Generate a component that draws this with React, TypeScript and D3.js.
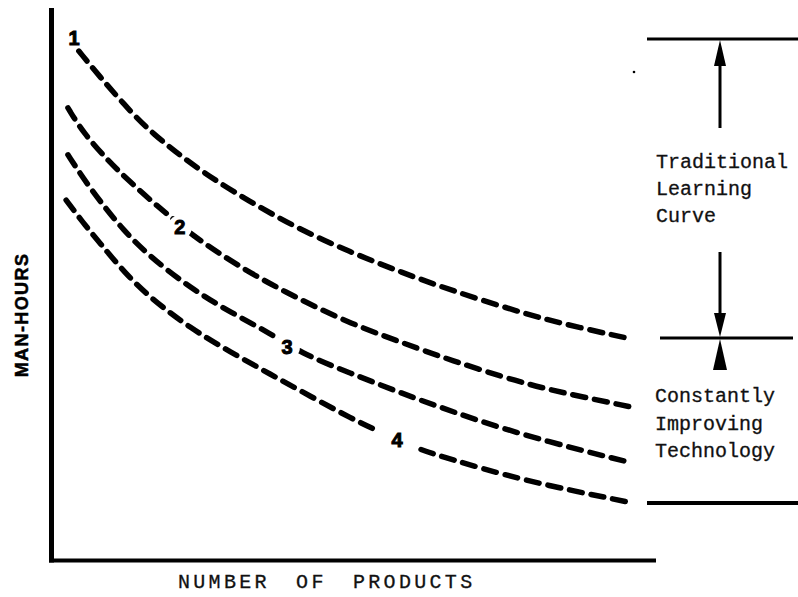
import React from "react";
import * as d3 from "d3";

// Man-hours (0-100) vs number of products (0-100)
const curve1X = [4.6, 8.1, 12.2, 16.4, 24.6, 32.9, 40.7, 49.4, 57.7, 66.0, 77.5, 84.1, 95.2];
const curve1Y = [92.2, 87.5, 82.4, 77.5, 70.5, 64.9, 60.1, 55.8, 52.2, 48.9, 44.9, 42.9, 40.2];

const curve2X = [2.8, 5.3, 9.8, 13.1, 16.4, 19.2, 23.0, 29.6, 36.2, 42.3, 49.4, 57.7, 66.0, 77.5, 84.1, 96.0];
const curve2Y = [81.9, 77.4, 71.9, 68.5, 65.2, 62.7, 59.1, 54.2, 50.0, 46.6, 42.9, 39.5, 36.2, 32.2, 30.4, 27.7];

const curve3X = [2.8, 5.3, 8.1, 11.9, 16.4, 23.0, 29.6, 36.2, 42.0, 49.4, 57.7, 66.0, 77.9, 95.2];
const curve3Y = [73.4, 69.2, 65.0, 59.8, 54.9, 49.3, 44.9, 41.1, 37.1, 33.9, 30.3, 27.0, 22.6, 17.8];

const curve4X = [2.5, 5.3, 8.1, 12.2, 16.4, 23.0, 29.6, 36.2, 42.8, 49.9, 53.6, 61.0, 65.5, 77.5, 95.4];
const curve4Y = [65.2, 61.1, 57.4, 52.0, 47.5, 42.0, 37.7, 33.7, 29.7, 25.5, 23.6, 19.9, 18.5, 14.5, 10.5];

const curveNames = ["1", "2", "3", "4"];
const labelX = [3.8, 21.3, 39.0, 57.2];
const labelY = [94.6, 60.3, 38.6, 21.7];
const labelGap = [0, 12, 13, 22];

const xAxisTitle = "NUMBER OF PRODUCTS";
const yAxisTitle = "MAN-HOURS";
const upperNote = ["Traditional", "Learning", "Curve"];
const lowerNote = ["Constantly", "Improving", "Technology"];

const W = 798;
const H = 597;

export default function App() {
  const x = d3.scaleLinear().domain([0, 100]).range([51, 656]);
  const y = d3.scaleLinear().domain([0, 100]).range([560, 8]);

  const curves = [
    [curve1X, curve1Y],
    [curve2X, curve2Y],
    [curve3X, curve3Y],
    [curve4X, curve4Y],
  ].map(([xs, ys]) => xs.map((v, i) => [v, ys[i]] as [number, number]));

  const line = d3
    .line<[number, number]>()
    .x((d) => x(d[0]))
    .y((d) => y(d[1]))
    .curve(d3.curveBasis);

  const mono = "'Liberation Mono', 'Courier New', monospace";
  const sans = "'Liberation Sans', Arial, Helvetica, sans-serif";
  const ax = 720;

  return (
    <svg
      width={W}
      height={H}
      viewBox={`0 0 ${W} ${H}`}
      style={{ position: "absolute", left: 0, top: 0, background: "#fff" }}
    >
      <defs>
        {curves.map((_, i) => (
          <mask id={`m${i}`} key={i} maskUnits="userSpaceOnUse" x={0} y={0} width={W} height={H}>
            <rect x={0} y={0} width={W} height={H} fill="#fff" />
            {labelGap[i] > 0 && (
              <circle cx={x(labelX[i])} cy={y(labelY[i])} r={labelGap[i]} fill="#000" />
            )}
          </mask>
        ))}
      </defs>

      {/* axes */}
      <line x1={51.5} x2={51.5} y1={8} y2={562.5} stroke="#000" strokeWidth={5} />
      <line x1={49} x2={656} y1={560.5} y2={560.5} stroke="#000" strokeWidth={4} />

      {/* curves */}
      {curves.map((c, i) => (
        <path
          key={i}
          d={line(c) || ""}
          fill="none"
          stroke="#000"
          strokeWidth={5.5}
          strokeDasharray="13 9"
          strokeLinecap="round"
          mask={`url(#m${i})`}
        />
      ))}

      {/* curve labels */}
      {curveNames.map((n, i) => (
        <text
          key={n}
          x={x(labelX[i])}
          y={y(labelY[i])}
          textAnchor="middle"
          dominantBaseline="central"
          fontFamily={sans}
          fontWeight="bold"
          fontSize={20}
          stroke="#000"
          strokeWidth={1}
        >
          {n}
        </text>
      ))}

      {/* axis titles */}
      <text
        x={178}
        y={588}
        fontFamily={mono}
        fontSize={20}
        letterSpacing={3.3}
        wordSpacing={11}
        fill="#111"
        stroke="#111"
        strokeWidth={0.3}
      >
        {xAxisTitle}
      </text>
      <text
        transform="translate(28,315) rotate(-90)"
        textAnchor="middle"
        fontFamily={sans}
        fontWeight="bold"
        fontSize={18}
        letterSpacing={1.4}
        stroke="#000"
        strokeWidth={0.5}
      >
        {yAxisTitle}
      </text>

      {/* right-hand annotation */}
      <line x1={647} x2={798} y1={39} y2={39} stroke="#000" strokeWidth={3} />
      <line x1={660} x2={793} y1={338} y2={338} stroke="#000" strokeWidth={3} />
      <line x1={647} x2={798} y1={503} y2={503} stroke="#000" strokeWidth={4} />
      <circle cx={634} cy={72} r={1.3} fill="#000" />

      <line x1={ax} x2={ax} y1={60} y2={128} stroke="#000" strokeWidth={3} />
      <polygon points={`${ax},40 ${ax - 6},66 ${ax + 6},66`} fill="#000" />

      <line x1={ax} x2={ax} y1={252} y2={318} stroke="#000" strokeWidth={3} />
      <polygon points={`${ax},337 ${ax - 6},313 ${ax + 6},313`} fill="#000" />

      <polygon points={`${ax},339 ${ax - 7},370 ${ax + 7},370`} fill="#000" />

      {upperNote.map((t, i) => (
        <text key={t} x={656} y={168 + i * 27} fontFamily={mono} fontSize={20} fill="#111" stroke="#111" strokeWidth={0.3}>
          {t}
        </text>
      ))}
      {lowerNote.map((t, i) => (
        <text key={t} x={655} y={402 + i * 27.5} fontFamily={mono} fontSize={20} fill="#111" stroke="#111" strokeWidth={0.3}>
          {t}
        </text>
      ))}
    </svg>
  );
}
